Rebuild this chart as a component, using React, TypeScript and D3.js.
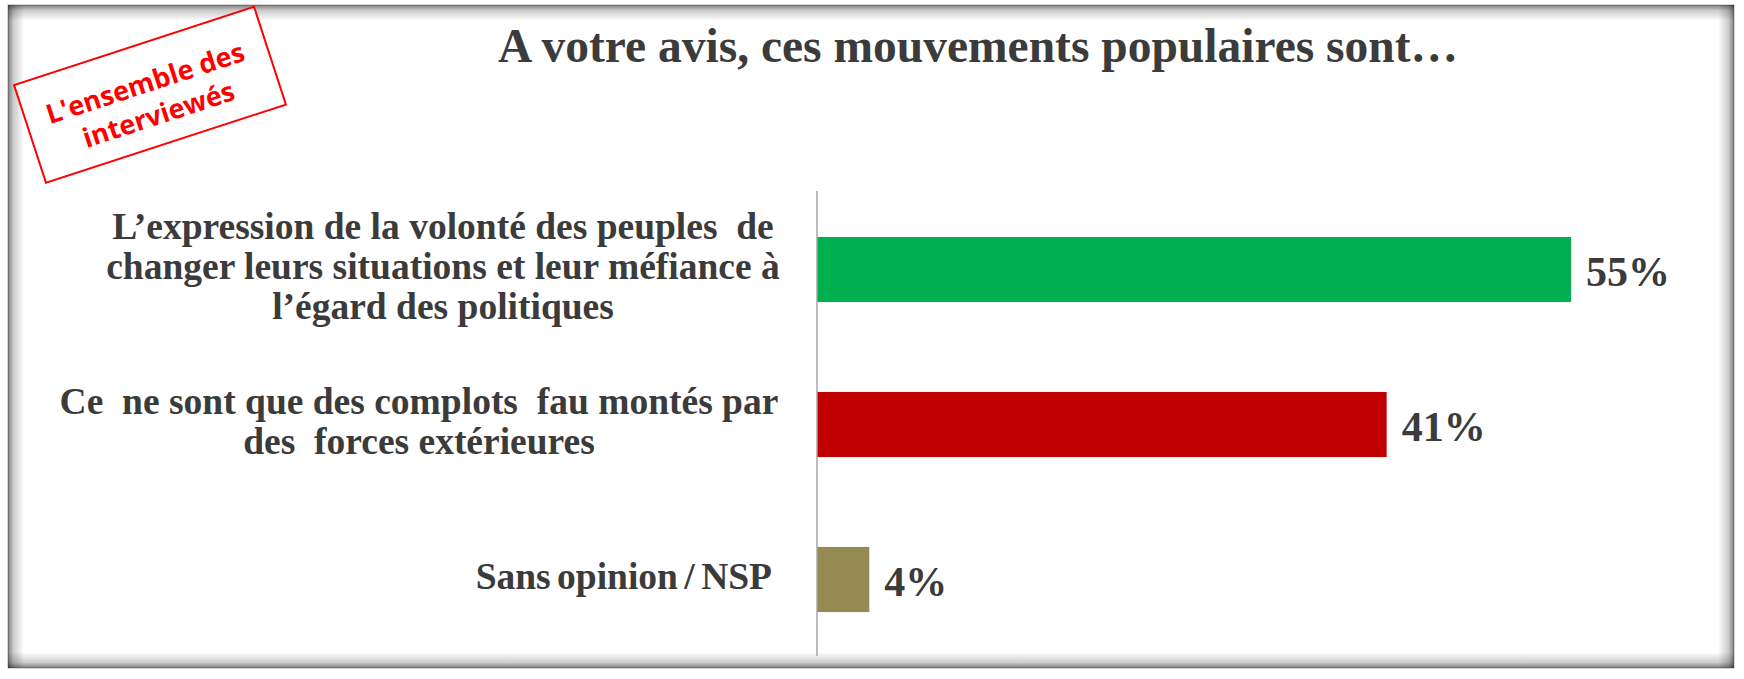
import React from 'react';
import * as d3 from 'd3';

// chart data
const title = 'A votre avis, ces mouvements populaires sont…';
const categories = [
  ['L’expression de la volonté des peuples  de', 'changer leurs situations et leur méfiance à', 'l’égard des politiques'],
  ['Ce  ne sont que des complots  fau montés par', 'des  forces extérieures'],
  ['Sans opinion / NSP'],
];
const values = [54.8, 41.4, 3.8];
const valueLabels = ['55%', '41%', '4%'];
const barColors = ['#00b050', '#c00000', '#948a54'];
const stampLines = ["L'ensemble des", 'interviewés'];

const W = 1744;
const H = 679;
const axisX = 817;
const textColor = '#3b3b3b';
const serif = '"Liberation Serif", "Times New Roman", serif';

// label boxes: horizontal anchor per category
const labelPos = [
  { x: 443, anchor: 'middle', ws: 0 },
  { x: 419, anchor: 'middle', ws: 0 },
  { x: 772, anchor: 'end', ws: -3 },
];

export default function App() {
  const x = d3.scaleLinear().domain([0, 100]).range([axisX, axisX + 1376]);
  const y = d3.scaleBand<number>()
    .domain(d3.range(values.length))
    .range([192, 657])
    .paddingInner(0.58)
    .paddingOuter(0.29);
  const bw = y.bandwidth();

  const frame = { x: 8, y: 5, w: 1726, h: 663 };
  const sh = 16;
  const stops = (
    <>
      <stop offset="0" stopColor="#000" stopOpacity={0.5} />
      <stop offset="0.35" stopColor="#000" stopOpacity={0.2} />
      <stop offset="1" stopColor="#000" stopOpacity={0} />
    </>
  );

  return (
    <svg width={W} height={H} style={{ position: 'absolute', left: 0, top: 0 }}>
      <defs>
        <linearGradient id="shL" x1="0" x2="1" y1="0" y2="0">{stops}</linearGradient>
        <linearGradient id="shR" x1="1" x2="0" y1="0" y2="0">{stops}</linearGradient>
        <linearGradient id="shT" x1="0" x2="0" y1="0" y2="1">{stops}</linearGradient>
        <linearGradient id="shB" x1="0" x2="0" y1="1" y2="0">{stops}</linearGradient>
      </defs>

      <rect x={0} y={0} width={W} height={H} fill="#fff" />
      {/* frame with inner shadow */}
      <rect x={frame.x} y={frame.y} width={frame.w} height={frame.h} fill="#fff" stroke="#b0b0b0" strokeWidth={1} />
      <rect x={frame.x} y={frame.y} width={sh} height={frame.h} fill="url(#shL)" />
      <rect x={frame.x + frame.w - sh} y={frame.y} width={sh} height={frame.h} fill="url(#shR)" />
      <rect x={frame.x} y={frame.y} width={frame.w} height={sh} fill="url(#shT)" />
      <rect x={frame.x} y={frame.y + frame.h - sh} width={frame.w} height={sh} fill="url(#shB)" />

      <text x={978} y={62} textAnchor="middle" fontFamily={serif} fontWeight="bold"
        fontSize={47.5} fill={textColor}>{title}</text>

      {/* stamp */}
      <g transform="translate(150,94.8) rotate(-18.07)">
        <rect x={-126.2} y={-51.4} width={252.4} height={102.8} fill="#fff" stroke="#ff0000" strokeWidth={2} />
        {stampLines.map((s, i) => (
          <text key={i} x={i === 0 ? -1 : 2} y={-3 + i * 34} textAnchor="middle"
            fontFamily='"Open Sans", "Noto Sans", sans-serif' fontWeight="bold" fontSize={27} fill="#ff0000">{s}</text>
        ))}
      </g>

      {/* bars */}
      {values.map((v, i) => (
        <rect key={i} x={x(0)} y={y(i)} width={x(v) - x(0)} height={bw} fill={barColors[i]} />
      ))}

      {/* axis line */}
      <line x1={axisX} x2={axisX} y1={191} y2={656} stroke="#a6a6a6" strokeWidth={1.5} />

      {/* value labels */}
      {values.map((v, i) => (
        <text key={i} x={x(v) + 15} y={(y(i) as number) + bw / 2 + 16} fontFamily={serif}
          fontWeight="bold" fontSize={42} fill={textColor}>{valueLabels[i]}</text>
      ))}

      {/* category labels */}
      {categories.map((lines, i) => {
        const cy = (y(i) as number) + bw / 2;
        return lines.map((s, j) => (
          <text key={i + '-' + j} x={labelPos[i].x} y={cy + 9 + (j - (lines.length - 1) / 2) * 40}
            textAnchor={labelPos[i].anchor as any} fontFamily={serif} fontWeight="bold" fontSize={37.5}
            wordSpacing={labelPos[i].ws} fill={textColor} style={{ whiteSpace: 'pre' }}>{s}</text>
        ));
      })}
    </svg>
  );
}
